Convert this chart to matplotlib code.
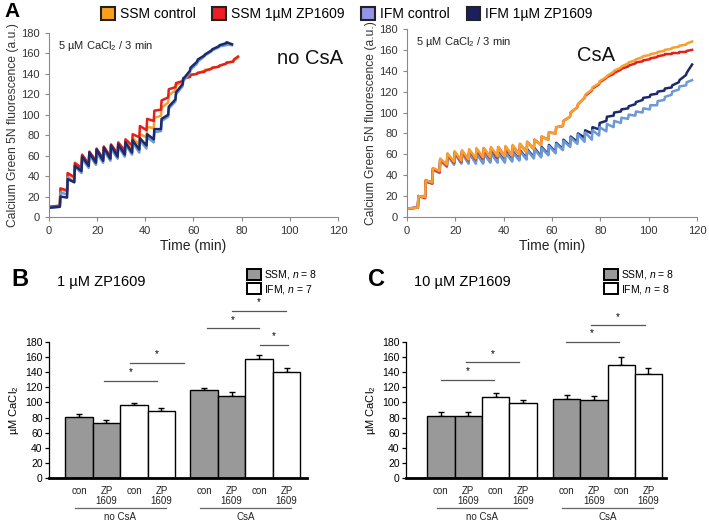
import matplotlib
matplotlib.use("Agg")
import matplotlib.pyplot as plt
from matplotlib.patches import Patch

plt.rcParams['font.family'] = 'Liberation Sans'
plt.rcParams['mathtext.fontset'] = 'custom'
plt.rcParams['mathtext.rm'] = 'Liberation Sans'
plt.rcParams['mathtext.it'] = 'Liberation Sans:italic'

# ---- panel A data: Ca pulses every 3 min, value just before / just after each pulse
t_nocsa = [4.5, 7.5, 10.5, 13.5, 16.5, 19.5, 22.5, 25.5, 28.5, 31.5, 34.5, 37.5, 40.5,
           43.5, 46.5, 49.5, 52.5, 55.5, 58.5, 61.5, 64.5, 67.5, 70.5, 73.5, 76.5]
ssm_con_nocsa_lo = [11, 25, 38, 47, 51, 54, 56, 58, 60, 62, 66, 71, 78, 87, 99, 112, 124, 132, 137, 140, 143, 145, 147, 150, 152]
ssm_con_nocsa_hi = [27, 42, 52, 60, 63, 66, 68, 70, 72, 74, 77, 81, 88, 97, 107, 119, 129, 135, 139, 141, 144, 146, 148, 151, 153]
ssm_zp_nocsa_lo = [11, 26, 39, 48, 52, 55, 57, 59, 62, 65, 70, 78, 85, 94, 105, 117, 127, 133, 137, 140, 142, 145, 147, 150, 152]
ssm_zp_nocsa_hi = [28, 43, 53, 61, 64, 67, 69, 71, 73, 76, 81, 89, 96, 104, 114, 125, 131, 136, 139, 141, 143, 146, 148, 151, 154]
ifm_con_nocsa_lo = [10, 22, 34, 43, 48, 51, 53, 55, 57, 59, 61, 63, 67, 73, 84, 98, 113, 128, 141, 150, 157, 162, 166, 168]
ifm_con_nocsa_hi = [24, 39, 49, 57, 61, 63, 65, 67, 69, 71, 73, 75, 78, 83, 94, 106, 120, 133, 144, 152, 158, 163, 167, 169]
ifm_zp_nocsa_lo = [10, 19, 34, 45, 50, 53, 55, 57, 59, 61, 63, 66, 70, 76, 86, 100, 115, 130, 143, 152, 158, 163, 167, 170]
ifm_zp_nocsa_hi = [20, 37, 50, 59, 63, 66, 68, 70, 71, 73, 75, 77, 81, 86, 96, 108, 122, 135, 146, 154, 159, 164, 168, 171]
# (start value, end time, end value)
ends_nocsa = {'ssm_con': (10, 78.5, 156), 'ssm_zp': (10, 78.5, 157),
              'ifm_con': (9, 76, 168), 'ifm_zp': (9, 76, 169)}

t_csa = [4.5, 7.5, 10.5, 13.5, 16.5, 19.5, 22.5, 25.5, 28.5, 31.5, 34.5, 37.5, 40.5,
         43.5, 46.5, 49.5, 52.5, 55.5, 58.5, 61.5, 64.5, 67.5, 70.5, 73.5, 76.5, 79.5,
         82.5, 85.5, 88.5, 91.5, 94.5, 97.5, 100.5, 103.5, 106.5, 109.5, 112.5, 115.5]
ssm_con_csa_lo = [9, 19, 33, 44, 50, 53, 54, 55, 56, 57, 57, 58, 58, 59, 60, 62, 65, 69, 74, 80, 87, 96, 105, 114, 122, 128, 134, 139, 143, 147, 150, 153, 155, 157, 159, 161, 163, 165]
ssm_con_csa_hi = [20, 35, 47, 56, 61, 63, 64, 65, 66, 66, 67, 67, 68, 69, 70, 72, 74, 77, 81, 86, 92, 100, 108, 117, 124, 130, 135, 140, 144, 148, 151, 154, 156, 158, 160, 162, 164, 166]
ssm_zp_csa_lo = [9, 18, 32, 43, 49, 52, 53, 54, 55, 56, 57, 57, 58, 59, 60, 62, 65, 69, 74, 80, 87, 96, 105, 114, 121, 127, 133, 137, 141, 144, 147, 149, 151, 153, 155, 156, 157, 158]
ssm_zp_csa_hi = [20, 34, 46, 55, 60, 62, 63, 64, 65, 66, 66, 67, 67, 68, 70, 72, 74, 77, 81, 86, 92, 100, 108, 116, 123, 129, 134, 138, 142, 145, 148, 150, 152, 154, 156, 157, 158, 159]
ifm_con_csa_lo = [9, 19, 32, 42, 48, 50, 51, 51, 51, 51, 52, 52, 52, 53, 54, 55, 56, 57, 59, 61, 64, 67, 70, 72, 74, 78, 82, 86, 90, 94, 97, 100, 103, 107, 112, 117, 122, 126]
ifm_con_csa_hi = [20, 34, 45, 54, 59, 61, 61, 61, 61, 61, 61, 61, 62, 62, 63, 64, 65, 66, 68, 70, 73, 76, 79, 81, 83, 86, 89, 92, 95, 98, 101, 104, 107, 111, 115, 120, 125, 129]
ifm_zp_csa_lo = [9, 19, 33, 43, 49, 51, 52, 52, 52, 52, 53, 53, 53, 54, 55, 56, 57, 58, 60, 62, 65, 68, 72, 76, 80, 84, 92, 97, 101, 104, 108, 112, 115, 118, 121, 124, 129, 136]
ifm_zp_csa_hi = [20, 35, 46, 55, 60, 62, 62, 62, 62, 62, 62, 62, 63, 63, 64, 65, 66, 67, 69, 71, 74, 77, 80, 83, 86, 90, 96, 100, 103, 106, 110, 114, 117, 120, 123, 126, 131, 138]
ends_csa = {'ssm_con': (8, 118, 168), 'ssm_zp': (8, 118, 160),
            'ifm_con': (8, 118, 131), 'ifm_zp': (8, 118, 146)}

# ---- panels B / C data (order: SSM con, SSM ZP, IFM con, IFM ZP ; no CsA then CsA)
bar_labels = ['con', 'ZP\n1609', 'con', 'ZP\n1609', 'con', 'ZP\n1609', 'con', 'ZP\n1609']
b_means = [81, 73, 96, 89, 116, 109, 157, 140]
b_err = [4, 3.5, 3, 4, 3, 5, 6, 6]
c_means = [82, 82, 107, 99, 105, 103, 149, 138]
c_err = [6, 6, 5, 4, 5, 6, 11, 7]
# significance lines (x from, x to, height)
b_sig = [(0.91, 2.84, 129), (1.85, 3.82, 152), (4.65, 6.55, 198), (5.56, 7.53, 221), (6.58, 7.6, 176)]
c_sig = [(0.0, 1.94, 130), (0.9, 2.87, 153), (4.57, 6.51, 180), (5.5, 7.47, 202)]

COL = {'ssm_con': '#F7A030', 'ssm_zp': '#E4201C', 'ifm_con': '#6C9AD6', 'ifm_zp': '#1C2A6B'}
LEG = {'ssm_con': '#F9A11B', 'ssm_zp': '#EE1C25', 'ifm_con': '#9494E8', 'ifm_zp': '#1B1F5E'}


def sawtooth(times, lo, hi, end):
    start, t_end, v_end = end
    xs, ys = [0], [start]
    for t, l, h in zip(times, lo, hi):
        xs += [t, t + 0.25]
        ys += [l, h]
    xs.append(t_end)
    ys.append(v_end)
    return xs, ys


def style_trace_ax(ax, label_text):
    ax.set_xlim(0, 120)
    ax.set_ylim(0, 180)
    ax.set_xticks(range(0, 121, 20))
    ax.set_yticks(range(0, 181, 20))
    for s in ['top', 'right']:
        ax.spines[s].set_visible(False)
    for s in ['left', 'bottom']:
        ax.spines[s].set_color('#8a8a8a')
    ax.tick_params(colors='#8a8a8a', labelcolor='#333333', labelsize=8, length=3)
    ax.set_xlabel('Time (min)', fontsize=10, color='#222222', labelpad=2)
    ax.set_ylabel('Calcium Green 5N fluorescence (a.u.)', fontsize=8.7, color='#333333', labelpad=2)
    ax.text(0.03, 0.93, r'5 µM CaCl$_2$ / 3 min', transform=ax.transAxes, fontsize=8, color='#222222', va='center')


fig = plt.figure(figsize=(7.09, 5.24), dpi=100)

# panel A left
ax1 = fig.add_axes([0.0691, 0.5859, 0.4076, 0.3511])
for key, lo, hi in [('ssm_con', ssm_con_nocsa_lo, ssm_con_nocsa_hi),
                    ('ssm_zp', ssm_zp_nocsa_lo, ssm_zp_nocsa_hi),
                    ('ifm_con', ifm_con_nocsa_lo, ifm_con_nocsa_hi),
                    ('ifm_zp', ifm_zp_nocsa_lo, ifm_zp_nocsa_hi)]:
    xs, ys = sawtooth(t_nocsa, lo, hi, ends_nocsa[key])
    ax1.plot(xs, ys, color=COL[key], lw=1.8)
style_trace_ax(ax1, 'no CsA')
ax1.text(0.79, 0.86, 'no CsA', transform=ax1.transAxes, fontsize=14.5, color='#111111', va='center')

# panel A right
ax2 = fig.add_axes([0.574, 0.5859, 0.409, 0.3588])
for key, lo, hi in [('ifm_zp', ifm_zp_csa_lo, ifm_zp_csa_hi),
                    ('ifm_con', ifm_con_csa_lo, ifm_con_csa_hi),
                    ('ssm_zp', ssm_zp_csa_lo, ssm_zp_csa_hi),
                    ('ssm_con', ssm_con_csa_lo, ssm_con_csa_hi)]:
    xs, ys = sawtooth(t_csa, lo, hi, ends_csa[key])
    ax2.plot(xs, ys, color=COL[key], lw=1.8)
style_trace_ax(ax2, 'CsA')
ax2.text(0.585, 0.86, 'CsA', transform=ax2.transAxes, fontsize=14.5, color='#111111', va='center')

fig.text(0.006, 0.978, 'A', fontsize=15, fontweight='bold', va='center')
handles = [Patch(facecolor=LEG[k], edgecolor='#222222', linewidth=1.5) for k in ['ssm_con', 'ssm_zp', 'ifm_con', 'ifm_zp']]
fig.legend(handles, ['SSM control', 'SSM 1µM ZP1609', 'IFM control', 'IFM 1µM ZP1609'],
           loc='upper left', bbox_to_anchor=(0.129, 1.005), ncol=4, frameon=False, fontsize=10,
           handlelength=1.0, handleheight=1.0, handletextpad=0.35, columnspacing=1.2, borderpad=0.2)


def bar_panel(rect, means, err, sig, gap, xlim, letter, title, n_ifm):
    ax = fig.add_axes(rect)
    xs = [0, 1, 2, 3, 3 + gap + 1, 3 + gap + 2, 3 + gap + 3, 3 + gap + 4]
    colors = ['#999999', '#999999', 'white', 'white'] * 2
    ax.bar(xs, means, width=1.0, color=colors, edgecolor='black', linewidth=1.0, zorder=2)
    ax.errorbar(xs, means, yerr=[[0] * len(err), err], fmt='none', ecolor='black',
                elinewidth=1.0, capsize=2, capthick=1.0, zorder=1)
    ax.set_xlim(*xlim)
    ax.set_ylim(0, 180)
    ax.set_yticks(range(0, 181, 20))
    ax.set_xticks([])
    for s in ['top', 'right']:
        ax.spines[s].set_visible(False)
    ax.spines['bottom'].set_linewidth(2.0)
    ax.spines['left'].set_linewidth(0.9)
    ax.tick_params(axis='y', labelsize=7.5, length=3, width=0.9, pad=1.5)
    ax.set_ylabel(r'µM CaCl$_2$', fontsize=8, labelpad=3)
    for x, lab in zip(xs, bar_labels):
        ax.text(x, -10, lab, ha='center', va='top', fontsize=7, color='#222222',
                linespacing=1.05, clip_on=False)
    for g0, g1, name in [(xs[0], xs[3], 'no CsA'), (xs[4], xs[7], 'CsA')]:
        ax.plot([g0 - 0.15, g1 + 0.15], [-40, -40], color='#666666', lw=0.9, clip_on=False)
        ax.text((g0 + g1) / 2, -45, name, ha='center', va='top', fontsize=7, color='#222222', clip_on=False)
    for x0, x1, y in sig:
        ax.plot([x0, x1], [y, y], color='#555555', lw=0.9, clip_on=False)
        ax.text((x0 + x1) / 2, y + 5, '*', ha='center', va='bottom', fontsize=7, clip_on=False)
    fig.text(rect[0] - 0.053, 0.467, letter, fontsize=17, fontweight='bold', va='center')
    fig.text(rect[0] + 0.012, 0.462, title, fontsize=10.5, va='center')
    lh = [Patch(facecolor='#999999', edgecolor='black', linewidth=1.4),
          Patch(facecolor='white', edgecolor='black', linewidth=1.4)]
    fig.legend(lh, [r'SSM, $\it{n}$ = 8', r'IFM, $\it{n}$ = ' + n_ifm], loc='upper left',
               bbox_to_anchor=(rect[0] + 0.272, 0.498), frameon=False, fontsize=7.5,
               handlelength=1.3, handleheight=1.3, handletextpad=0.35, labelspacing=0.12, borderpad=0)
    return ax


ax3 = bar_panel([0.0691, 0.0878, 0.3639, 0.2595], b_means, b_err, b_sig, 0.55, (-1.09, 8.29),
                'B', '1 µM ZP1609', '7')
ax4 = bar_panel([0.5726, 0.0878, 0.3667, 0.2595], c_means, c_err, c_sig, 0.6, (-1.28, 8.24),
                'C', '10 µM ZP1609', '8')

fig.savefig('out.png', dpi=100)
